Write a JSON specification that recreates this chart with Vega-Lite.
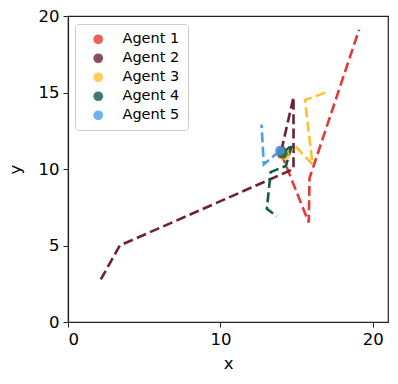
{
  "$schema": "https://vega.github.io/schema/vega-lite/v6.json",
  "width": 320,
  "height": 306,
  "autosize": {"type": "none"},
  "padding": {"left": 68, "top": 16, "right": 10, "bottom": 62},
  "config": {
    "font": "DejaVu Sans",
    "view": {"stroke": "#222222", "strokeWidth": 1.2},
    "axis": {
      "grid": false,
      "domainColor": "#222222",
      "domainWidth": 1.2,
      "tickColor": "#222222",
      "tickSize": 5,
      "tickWidth": 1,
      "labelFont": "DejaVu Sans",
      "labelFontSize": 16.5,
      "labelColor": "#000000",
      "labelPadding": 4,
      "titleFont": "DejaVu Sans",
      "titleFontSize": 16.5,
      "titleFontWeight": "normal",
      "titleColor": "#000000"
    }
  },
  "resolve": {"legend": {"color": "independent"}},
  "data": {
    "values": [
      {"agent": "Agent 1", "step": 0, "x": 14.0, "y": 11.0},
      {"agent": "Agent 1", "step": 1, "x": 15.8, "y": 6.5},
      {"agent": "Agent 1", "step": 2, "x": 15.85, "y": 9.4},
      {"agent": "Agent 1", "step": 3, "x": 19.1, "y": 19.1},
      {"agent": "Agent 2", "step": 0, "x": 14.0, "y": 11.2},
      {"agent": "Agent 2", "step": 1, "x": 14.8, "y": 14.7},
      {"agent": "Agent 2", "step": 2, "x": 14.8, "y": 10.0},
      {"agent": "Agent 2", "step": 3, "x": 3.4, "y": 5.0},
      {"agent": "Agent 2", "step": 4, "x": 2.05, "y": 2.6},
      {"agent": "Agent 3", "step": 0, "x": 14.25, "y": 10.9},
      {"agent": "Agent 3", "step": 1, "x": 14.9, "y": 11.5},
      {"agent": "Agent 3", "step": 2, "x": 16.05, "y": 10.3},
      {"agent": "Agent 3", "step": 3, "x": 15.55, "y": 14.5},
      {"agent": "Agent 3", "step": 4, "x": 16.9, "y": 15.0},
      {"agent": "Agent 4", "step": 0, "x": 14.1, "y": 11.0},
      {"agent": "Agent 4", "step": 1, "x": 14.7, "y": 11.6},
      {"agent": "Agent 4", "step": 2, "x": 14.3, "y": 10.2},
      {"agent": "Agent 4", "step": 3, "x": 13.3, "y": 9.8},
      {"agent": "Agent 4", "step": 4, "x": 13.05, "y": 7.4},
      {"agent": "Agent 4", "step": 5, "x": 13.7, "y": 6.9},
      {"agent": "Agent 5", "step": 0, "x": 13.9, "y": 11.2},
      {"agent": "Agent 5", "step": 1, "x": 12.85, "y": 10.3},
      {"agent": "Agent 5", "step": 2, "x": 12.7, "y": 12.9}
    ]
  },
  "layer": [
    {
      "mark": {"type": "line", "strokeWidth": 2.6, "strokeDash": [10, 4.4]},
      "encoding": {
        "x": {"field": "x", "type": "quantitative", "scale": {"domain": [0, 21], "nice": false}, "axis": {"values": [0, 10, 20], "title": "x", "titlePadding": 8}},
        "y": {"field": "y", "type": "quantitative", "scale": {"domain": [0, 20], "nice": false}, "axis": {"values": [0, 5, 10, 15, 20], "title": "y", "titlePadding": 15}},
        "color": {"field": "agent", "type": "nominal", "legend": null,
          "scale": {"domain": ["Agent 1", "Agent 2", "Agent 3", "Agent 4", "Agent 5"], "range": ["#e53935", "#6d2139", "#fbc02d", "#0d5c45", "#4a9de8"]}},
        "detail": {"field": "agent"},
        "order": {"field": "step", "type": "quantitative"}
      }
    },
    {
      "transform": [{"filter": "datum.step == 0"}],
      "mark": {"type": "point", "filled": true, "opacity": 0.8, "size": 95},
      "encoding": {
        "x": {"field": "x", "type": "quantitative"},
        "y": {"field": "y", "type": "quantitative"},
        "color": {"field": "agent", "type": "nominal",
          "legend": {
            "title": null,
            "orient": "none",
            "legendX": 7,
            "legendY": 8,
            "strokeColor": "#cccccc",
            "fillColor": "white",
            "cornerRadius": 3,
            "padding": 8,
            "labelFontSize": 14.5,
            "labelFont": "DejaVu Sans",
            "labelColor": "#000000",
            "symbolSize": 95,
            "symbolOpacity": 0.8,
            "symbolType": "circle",
            "symbolStrokeWidth": 0,
            "labelOffset": 17,
            "rowPadding": 4,
            "symbolOffset": 8
          }
        },
        "order": {"field": "agent"}
      }
    }
  ]
}
